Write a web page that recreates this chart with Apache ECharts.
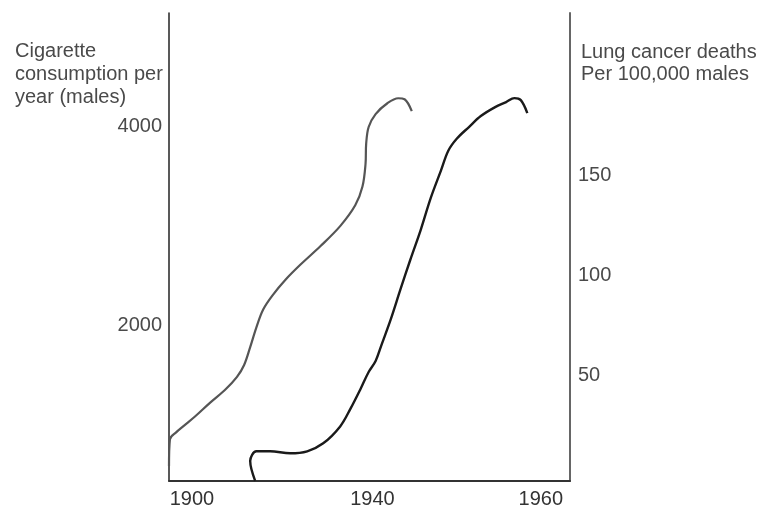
<!DOCTYPE html>
<html>
<head>
<meta charset="utf-8">
<script src="https://cdn.jsdelivr.net/npm/echarts@6/dist/echarts.min.js"></script>
<style>
html,body{margin:0;padding:0;background:#fff;}
#chart{width:757px;height:509px;}
</style>
</head>
<body>
<div id="chart"></div>
<script>
// Tick labels
var yearTicks = [1900, 1940, 1960];
var cigTicks = [2000, 4000];
var lungTicks = [50, 100, 150];

// Cigarette consumption per year (males)
var cigYears = [1892.8, 1893.1, 1895.1, 1897.3, 1900.9, 1905.3, 1909.4, 1912.5, 1914.3, 1915.8, 1917.3, 1918.9, 1921.0, 1923.9, 1927.0, 1931.0, 1934.6, 1937.2, 1938.4, 1938.9, 1939.0, 1939.4, 1940.5, 1942.3, 1943.9, 1944.8, 1945.8];
var cigValues = [585, 854, 924, 984, 1083, 1223, 1352, 1482, 1601, 1781, 1980, 2159, 2299, 2458, 2608, 2797, 2997, 3206, 3395, 3624, 3824, 3993, 4123, 4232, 4282, 4272, 4152];

// Lung cancer deaths per 100,000 males
var lungYears = [1917.0, 1915.8, 1917.3, 1920.5, 1924.9, 1928.4, 1931.5, 1934.6, 1936.4, 1938.1, 1939.4, 1940.5, 1941.4, 1942.8, 1944.2, 1945.6, 1947.0, 1948.3, 1949.6, 1950.5, 1951.5, 1952.9, 1954.2, 1955.7, 1956.8, 1957.6, 1958.2, 1958.8];
var lungValues = [-3, 6.9, 11.8, 11.8, 10.8, 11.8, 15.8, 24.3, 33.2, 43.2, 51.6, 57.1, 65.1, 78.0, 92.9, 107.9, 122.8, 138.7, 152.6, 162.6, 168.6, 174.5, 180.0, 184.5, 187.0, 189.0, 188.0, 181.5];

// The reference's year axis is stretched toward later years; it is reproduced
// with an inverted log axis on (REF - year).
var REF = 1984.3;
function toAxis(year) { return REF - year; }
function pairs(xs, ys) { return xs.map(function (x, i) { return [toAxis(x), ys[i]]; }); }

var FONT = 'Liberation Sans, Arial, Helvetica, sans-serif';
var TXT = '#4a4a4a';

var chart = echarts.init(document.getElementById('chart'), null, {renderer: 'canvas'});
chart.setOption({
  animation: false,
  backgroundColor: '#ffffff',
  textStyle: {fontFamily: FONT},
  title: [
    {text: 'Cigarette\nconsumption per\nyear (males)', left: 10, top: 35,
     textStyle: {fontSize: 20, fontWeight: 'normal', color: TXT, lineHeight: 23, fontFamily: FONT}},
    {text: 'Lung cancer deaths\nPer 100,000 males', left: 576, top: 36,
     textStyle: {fontSize: 20, fontWeight: 'normal', color: TXT, lineHeight: 22, fontFamily: FONT}}
  ],
  grid: {left: 169, right: 187, top: 13, bottom: 24, containLabel: false},
  xAxis: {
    type: 'log',
    inverse: true,
    min: toAxis(1962.4),
    max: toAxis(1892.8),
    axisLine: {show: true, onZero: false, lineStyle: {color: '#333', width: 2}},
    axisTick: {show: false},
    splitLine: {show: false},
    axisLabel: {
      show: true, margin: 8, fontSize: 20, color: '#333', fontFamily: FONT,
      customValues: yearTicks.map(toAxis),
      formatter: function (v) { return String(Math.round(REF - v)); }
    }
  },
  yAxis: [
    {
      type: 'value', position: 'left', min: 435, max: 5139,
      axisLine: {show: true, onZero: false, lineStyle: {color: '#222', width: 1.5}},
      axisTick: {show: false},
      splitLine: {show: false},
      axisLabel: {show: true, margin: 7, fontSize: 20, color: TXT, fontFamily: FONT, customValues: cigTicks,
        formatter: function (v) { return String(Math.round(v)); }}
    },
    {
      type: 'value', position: 'right', min: -3.1, max: 231.7,
      axisLine: {show: true, onZero: false, lineStyle: {color: '#666', width: 2}},
      axisTick: {show: false},
      splitLine: {show: false},
      axisLabel: {show: true, margin: 8, fontSize: 20, color: TXT, fontFamily: FONT, customValues: lungTicks,
        formatter: function (v) { return String(Math.round(v)); }}
    }
  ],
  series: [
    {
      name: 'Cigarette consumption', type: 'line', yAxisIndex: 0,
      data: pairs(cigYears, cigValues), smooth: 0.35, showSymbol: false, clip: true,
      lineStyle: {color: '#555', width: 2.2}
    },
    {
      name: 'Lung cancer deaths', type: 'line', yAxisIndex: 1,
      data: pairs(lungYears, lungValues), smooth: 0.35, showSymbol: false, clip: true,
      lineStyle: {color: '#1a1a1a', width: 2.4}
    }
  ]
});
</script>
</body>
</html>
